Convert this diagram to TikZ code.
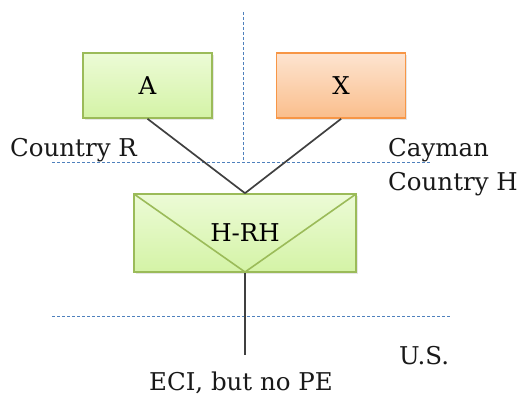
\documentclass[tikz,border=0pt]{standalone}
\usepackage{fontspec}
\setmainfont{DejaVu Serif}
\usetikzlibrary{positioning,shadows}
\definecolor{greenline}{RGB}{155,187,89}
\definecolor{greentop}{RGB}{236,251,214}
\definecolor{greenbot}{RGB}{212,243,166}
\definecolor{orangeline}{RGB}{247,150,70}
\definecolor{orangetop}{RGB}{253,228,208}
\definecolor{orangebot}{RGB}{250,190,140}
\definecolor{borderblue}{RGB}{79,129,189}

\begin{document}
\begin{tikzpicture}[x=1pt,y=-1pt,font=\fontsize{24.5}{28}\selectfont]
	\tikzstyle{entity}=[rectangle, minimum width=129pt, minimum height=65pt, line width=1.6pt, draw=greenline, top color=greentop, bottom color=greenbot, drop shadow={opacity=0.2, shadow xshift=1.5pt, shadow yshift=-1.5pt}]
	\tikzstyle{foreign}=[entity, draw=orangeline, top color=orangetop, bottom color=orangebot]
	\tikzstyle{envelope}=[entity, minimum width=222pt, minimum height=78pt, path picture={\draw[greenline, line width=1.6pt] (path picture bounding box.north west) -- (path picture bounding box.south) -- (path picture bounding box.north east);}]
	\tikzstyle{connect}=[line width=1.7pt, draw=black!75]
	\tikzstyle{border}=[borderblue, line width=1pt, dash pattern=on 3pt off 2pt]
	\tikzstyle{country}=[anchor=base west, inner sep=0pt, text=black!90]
	\useasboundingbox (0,0) rectangle (518,396);
	% borders between countries
	\draw[border] (243,12) -- (243,162);
	\draw[border] (52,162) -- (430,162);
	\draw[border] (52,316) -- (450,316);
	\node[country] (cr) at (10,156) {Country R};
	\node[country] (cay) at (388,156) {Cayman};
	\node[country] (ch) at (388,190) {Country H};
	\node[country] (us) at (399,364) {U.S.};
	% entities
	\node[entity] (A) at (147.5,85.5) {A};
	\node[foreign] (X) [right=63pt of A] {X};
	\node[envelope] (hrh) at (245,233) {H-RH};
	\path (hrh.south) ++(0,82) coordinate (stem);
	\node[anchor=base, inner sep=0pt, text=black!90] (eci) at (241,390) {ECI, but no PE};
	\path (A.south) edge [connect] (hrh.north)
	(X.south) edge [connect] (hrh.north)
	(hrh.south) edge [connect] (stem);
\end{tikzpicture}
\end{document}
